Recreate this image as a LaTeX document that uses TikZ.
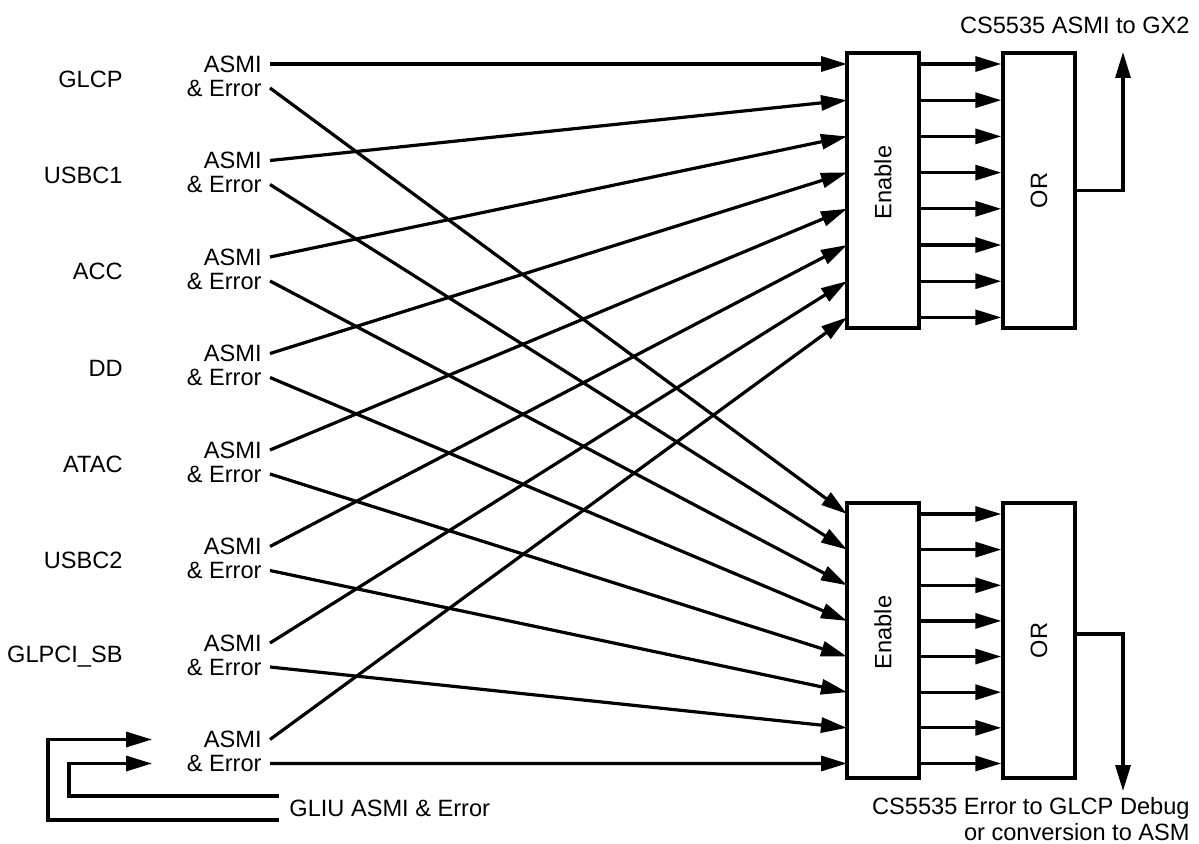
\documentclass[tikz,border=0pt]{standalone}
\usepackage{fontspec}
\setmainfont{Liberation Sans}
\usetikzlibrary{arrows.meta}
\usetikzlibrary{positioning}
\tikzset{sig/.style = {line width=1.6pt, -{Triangle[length=13pt,width=7.5pt]}}}
\tikzset{blk/.style = {draw, line width=1.7pt, minimum width=36pt,
                       minimum height=137.5pt, inner sep=0pt}}
\tikzset{lbl/.style = {font=\fontsize{11.8}{13}\selectfont, inner sep=0pt}}

\begin{document}
\begin{tikzpicture}[x=0.5pt, y=-0.5pt]
	\useasboundingbox (0,0) rectangle (1199,844);
	\node [blk] (en1) at (883,190.5) {};
	\node [blk] (or1) at (1039,190.5) {};
	\node [blk] (en2) at (883,640.5) {};
	\node [blk] (or2) at (1039,640.5) {};
	\node [lbl, rotate=90] (en1t) at ([yshift=4pt]en1) {Enable};
	\node [lbl, rotate=90] (or1t) at (or1) {OR};
	\node [lbl, rotate=90] (en2t) at ([yshift=4pt]en2) {Enable};
	\node [lbl, rotate=90] (or2t) at (or2) {OR};
	\foreach \i in {0,...,7} {
		\coordinate (ta\i) at (847, 64+36.2*\i);
		\coordinate (te\i) at (847, 514+35.64*\i);
		\draw [sig] (en1.east |- ta\i) -- (or1.west |- ta\i);
		\draw [sig] (en2.east |- te\i) -- (or2.west |- te\i);
		\node [lbl, anchor=east, inner xsep=4pt] (a\i) at (270, 64+96.5*\i) {ASMI};
		\node [lbl, anchor=east, inner xsep=4pt] (e\i) at (270, 88+96.5*\i) {\& Error};
		\draw [sig] (a\i.east) -- (ta\i);
		\draw [sig] (e\i.east) -- (te\i);
	}
	\foreach \src [count=\i from 0] in {GLCP, USBC1, ACC, DD, ATAC, USBC2, GLPCI\_SB}
		\node [lbl, anchor=east] (s\i) at (123, 79+96.3*\i) {\src};
	\node [lbl, anchor=east] (gx) at (1190,25) {CS5535 ASMI to GX2};
	\coordinate (gxin) at (1123,52);
	\draw [sig] (or1.east) -| (gxin);
	\node [lbl, anchor=north east, align=right] (dbg) at (1190,797)
		{CS5535 Error to GLCP Debug\\or conversion to ASM};
	\coordinate (dbgin) at (1123,791);
	\draw [sig] ([yshift=3.25pt]or2.east) -| (dbgin);
	\node [lbl, anchor=west, inner xsep=5pt] (gliu) at (279,808) {GLIU ASMI \& Error};
	\coordinate (fa) at (152, 64+96.5*7);
	\coordinate (fe) at (152, 88+96.5*7);
	\draw [sig] ([yshift=6pt]gliu.west) -- ++(-210,0) |- (fe);
	\draw [sig] ([yshift=-6pt]gliu.west) -- ++(-231,0) |- (fa);
\end{tikzpicture}
\end{document}
